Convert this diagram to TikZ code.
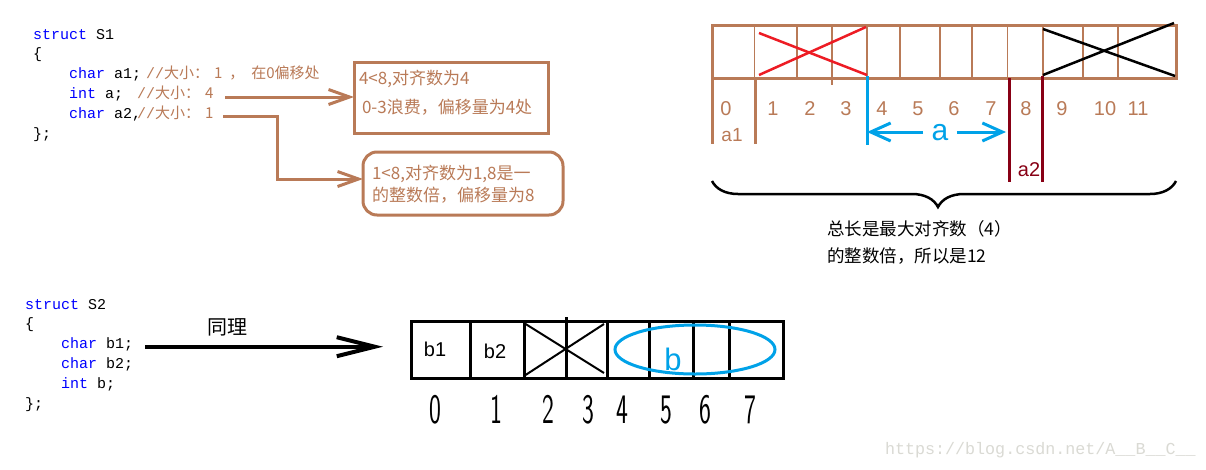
\documentclass[tikz,border=0pt]{standalone}
\usepackage{fontspec}
\usetikzlibrary{arrows.meta,decorations.pathreplacing}
\newfontfamily\cjk{Noto Sans CJK SC}
\newfontfamily\monof{Liberation Mono}
\newfontfamily\lsans{Liberation Sans}
\definecolor{brn}{RGB}{185,122,87}
\definecolor{kw}{RGB}{0,0,255}
\definecolor{skyb}{RGB}{0,162,232}
\definecolor{dred}{RGB}{136,0,21}
\definecolor{redx}{RGB}{237,28,36}
\definecolor{wmark}{RGB}{218,218,212}
\tikzset{
  txt/.style={inner sep=0pt, outer sep=0pt},
  code/.style={txt, anchor=base west, font=\monof\fontsize{15}{15}\selectfont},
  cmt/.style={code, text=brn},
  note/.style={txt, anchor=base west, text=brn, font=\cjk\fontsize{17}{17}\selectfont},
  idx/.style={txt, anchor=base, text=brn, font=\lsans\fontsize{20}{20}\selectfont},
  hand/.style={txt, anchor=base, font=\sffamily\fontsize{42}{42}\selectfont},
  brnbox/.style={draw=brn, line width=3pt, inner sep=0pt, outer sep=0pt},
  cellline/.style={draw=brn, line width=1.3pt},
  thickbrn/.style={draw=brn, line width=3pt},
  barb/.style={-{Straight Barb[length=21pt, width=15pt]}},
  bigbarb/.style={-{Straight Barb[length=38pt, width=19pt]}},
  bluebarb/.style={-{Straight Barb[length=20pt, width=18pt]}},
}
\newcommand{\cm}[1]{{\cjk\fontsize{15}{15}\selectfont #1}}
\begin{document}
\begin{tikzpicture}[x=1pt, y=-1pt]
\useasboundingbox (0,0) rectangle (1206,469);
\fill[white] (0,0) rectangle (1206,469);

% ---------- struct S1 code ----------
\node[code] (s1a) at (33,39) {\textcolor{kw}{struct} S1};
\node[code] (s1b) at (33,58) {\{};
\node[code] (s1c) at (69,78) {\textcolor{kw}{char} a1;};
\node[cmt] (s1cc) at (146,78) {//\cm{大小：\hspace{5pt}1\hspace{7pt}，\hspace{7pt}在0偏移处}};
\node[code] (s1d) at (69,98) {\textcolor{kw}{int} a;};
\node[cmt] (s1dc) at (137,98) {//\cm{大小：\hspace{5pt}4}};
\node[code] (s1e) at (69,118) {\textcolor{kw}{char} a2,};
\node[cmt] (s1ec) at (137,118) {//\cm{大小：\hspace{5pt}1}};
\node[code] (s1f) at (33,138) {\};};

% ---------- explanation boxes ----------
\node[brnbox, minimum width=194pt, minimum height=71pt] (box1) at (451,97.5) {};
\node[note] (t1) at (359,84.5) {4<8,对齐数为4};
\node[note] (t2) at (362,113.5) {0-3浪费，偏移量为4处};
\node[brnbox, rounded corners=14pt, minimum width=200pt, minimum height=63pt] (box2) at (463,183.5) {};
\node[note] (t3) at (372,179.5) {1<8,对齐数为1,8是一};
\node[note] (t4) at (372,201.5) {的整数倍，偏移量为8};

\coordinate (ar1) at (225,97);
\coordinate (ar2) at (223,116);
\coordinate (bend) at (277,179);
\draw[brn, line width=3pt, barb] (ar1) -- (box1.west |- ar1);
\draw[brn, line width=3pt, barb] (ar2) -| (bend) -- (box2.west |- bend);

% ---------- memory layout of S1 ----------
\draw[brn, line width=3pt] (712,25.5) rectangle (1176,78);
\foreach \xx in {754.5,797,867,900,940,972,1007.5,1043,1083,1118}
  \draw[cellline] (\xx,25.5) -- (\xx,78);
\draw[cellline] (832,25.5) -- (832,85);
\draw[thickbrn] (712.5,78) -- (712.5,144);
\draw[thickbrn] (755,78) -- (755,144);
\draw[skyb, line width=3pt] (867,76) -- (867,145);
\draw[dred, line width=3pt] (1009,78) -- (1009,182);
\draw[dred, line width=3pt] (1042,76) -- (1042,182);

\draw[redx, line width=2.5pt] (759,33) -- (867,75);
\draw[redx, line width=2.5pt] (759,75) -- (866,27);
\draw[black, line width=2.5pt] (1043,29) -- (1175,76);
\draw[black, line width=2.5pt] (1043,75) -- (1174,23);

\foreach \xx/\lab [count=\i] in {726/0,773/1,810/2,846/3,882/4,918/5,954/6,991/7,1026/8,1062/9,1105/10,1138/11}
  \node[idx] (n\i) at (\xx,115.3) {\lab};
\node[idx, font=\lsans\fontsize{19}{19}\selectfont] (la1) at (732,141.3) {a1};
\node[idx, text=dred] (la2) at (1029,176) {a2};
\node[txt, anchor=base, text=skyb, inner xsep=8.5pt, font=\lsans\fontsize{30}{30}\selectfont] (la) at (940,140) {a};
\coordinate (al) at (867,132);
\coordinate (arr) at (1006,132);
\draw[skyb, line width=3pt, bluebarb] (la.west |- al) -- (al);
\draw[skyb, line width=3pt, bluebarb] (la.east |- arr) -- (arr);

\coordinate (brL) at (712,181);
\coordinate (brR) at (1176,181);
\draw[line width=2.5pt, decorate, decoration={brace, mirror, amplitude=26pt, aspect=0.487}] (brL) -- (brR);
\node[txt, anchor=base west, font=\cjk\fontsize{17.5}{17.5}\selectfont] (tot1) at (827,235.5) {总长是最大对齐数（4）};
\node[txt, anchor=base west, font=\cjk\fontsize{17.5}{17.5}\selectfont] (tot2) at (827,262.5) {的整数倍，所以是12};

% ---------- struct S2 ----------
\node[code] (s2a) at (25,309) {\textcolor{kw}{struct} S2};
\node[code] (s2b) at (25,328) {\{};
\node[code] (s2c) at (61,348) {\textcolor{kw}{char} b1;};
\node[code] (s2d) at (61,368) {\textcolor{kw}{char} b2;};
\node[code] (s2e) at (61,388) {\textcolor{kw}{int} b;};
\node[code] (s2f) at (25,408) {\};};

\node[txt, anchor=base, font=\cjk\fontsize{20}{20}\selectfont] (same) at (227,334.5) {同理};
\coordinate (sa) at (145,346.7);
\coordinate (sb) at (383,346.7);
\draw[line width=4pt, bigbarb] (sa) -- (sb);

\draw[line width=3pt] (411.5,321) rectangle (783.5,378.5);
\foreach \xx in {470.7,524.6,607,649,693,729}
  \draw[line width=3pt] (\xx,321) -- (\xx,380);
\draw[line width=3pt] (566.7,317) -- (566.7,380);
\draw[line width=2pt] (524,323) -- (604,373);
\draw[line width=2pt] (524,376) -- (604,324);
\draw[skyb, line width=3pt] (695,349.5) ellipse [x radius=80pt, y radius=24.5pt];
\node[txt, anchor=base, font=\lsans\fontsize{20}{20}\selectfont] (b1) at (435,356.7) {b1};
\node[txt, anchor=base, font=\lsans\fontsize{20}{20}\selectfont] (b2) at (495,358.3) {b2};
\node[txt, anchor=base, text=skyb, font=\lsans\fontsize{31}{31}\selectfont] (bb) at (673,370) {b};

\foreach \xx/\lab [count=\i] in {435/0,496/1,548/2,588/3,622/4,666/5,705/6,750/7}
  \node[hand] (h\i) at (\xx,423) {\scalebox{0.6}[1]{\lab}};

% ---------- watermark ----------
\node[txt, anchor=base west, text=wmark, font=\monof\fontsize{16.7}{16.7}\selectfont] (wm) at (885,454.5) {https://blog.csdn.net/A\_\_B\_\_C\_\_};
\end{tikzpicture}
\end{document}
